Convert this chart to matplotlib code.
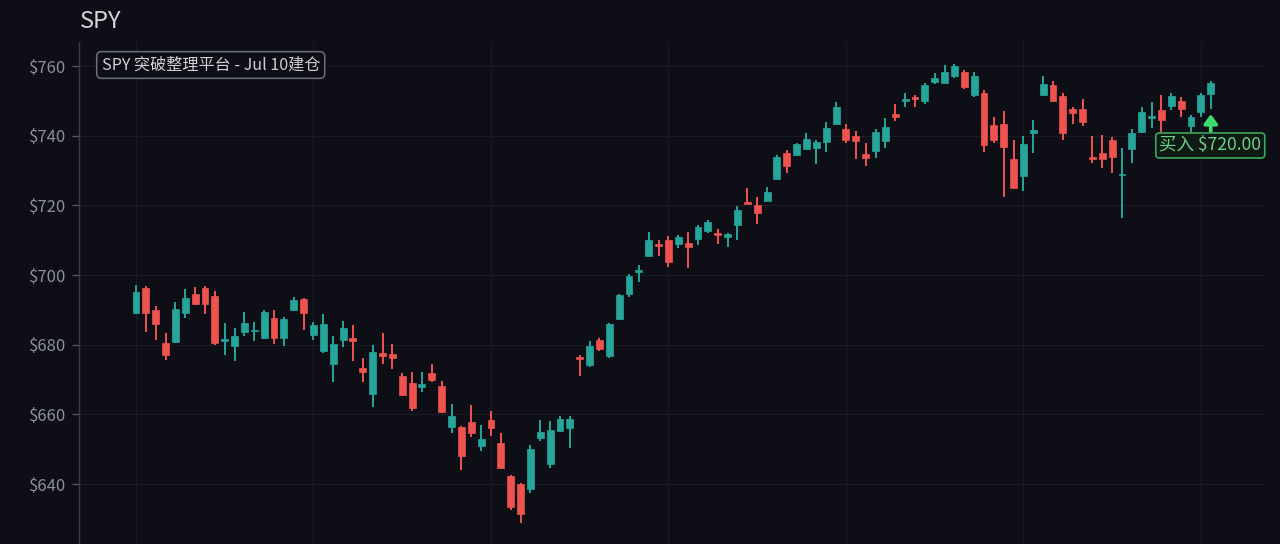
import matplotlib
matplotlib.use("Agg")
import matplotlib.pyplot as plt
import numpy as np

# ---------------- data ----------------
opens = [689.2, 696.2, 690.1, 680.6, 680.9, 689.2, 694.5, 696.2, 694.1, 681.1,
         679.7, 683.7, 683.8, 682.0, 687.6, 681.8, 690.0, 693.1, 682.8, 678.2,
         674.6, 681.3, 682.0, 673.2, 666.0, 677.5, 677.2, 671.0, 668.9, 668.0,
         672.0, 668.1, 656.4, 656.3, 657.9, 651.0, 658.4, 651.9, 642.3, 639.9,
         638.5, 653.3, 645.7, 655.2, 656.1, 676.4, 674.3, 681.3, 676.7, 687.3,
         694.7, 700.9, 705.6, 708.9, 710.0, 708.8, 709.3, 710.3, 712.6, 712.2,
         710.8, 714.4, 721.1, 720.1, 721.3, 727.6, 734.9, 734.4, 736.2, 736.6,
         738.3, 743.5, 741.9, 739.9, 734.7, 735.6, 738.5, 746.2, 750.0, 751.0,
         749.9, 755.5, 755.0, 757.0, 758.4, 751.7, 752.4, 743.2, 743.5, 733.3,
         728.5, 740.7, 751.7, 754.5, 751.5, 747.7, 747.6, 733.8, 734.9, 738.9,
         728.6, 736.3, 741.0, 745.0, 747.4, 748.5, 750.0, 742.9, 746.9, 751.9]
closes = [695.2, 689.2, 685.9, 677.0, 690.4, 693.5, 691.7, 691.6, 680.4, 681.4,
          682.6, 686.1, 684.2, 689.5, 681.8, 687.3, 692.8, 689.2, 685.6, 686.0,
          680.1, 684.7, 681.2, 672.1, 678.0, 676.9, 676.1, 665.5, 661.7, 668.7,
          670.0, 660.7, 659.5, 648.0, 654.7, 652.9, 656.2, 644.5, 633.5, 631.4,
          650.2, 655.0, 655.5, 658.6, 658.8, 675.9, 679.6, 678.9, 685.9, 694.2,
          699.8, 701.4, 710.0, 708.4, 703.8, 711.0, 708.1, 713.7, 715.1, 711.5,
          711.7, 718.7, 720.4, 717.7, 723.7, 734.0, 731.3, 737.6, 739.0, 738.1,
          742.3, 748.3, 738.9, 738.5, 733.7, 741.1, 742.4, 745.3, 750.6, 750.4,
          754.5, 756.5, 758.4, 760.0, 754.1, 757.1, 737.3, 738.9, 736.8, 725.1,
          737.6, 741.6, 754.8, 749.9, 740.7, 746.6, 743.8, 733.2, 733.2, 734.0,
          729.0, 740.9, 746.9, 745.6, 744.5, 751.5, 747.6, 745.3, 751.7, 755.0]
highs = [697.1, 696.9, 691.2, 683.5, 692.3, 695.9, 696.5, 696.9, 695.4, 686.3,
         684.9, 689.3, 686.4, 690.1, 690.1, 688.0, 693.6, 693.5, 686.6, 688.8,
         682.6, 686.9, 685.6, 676.1, 679.9, 683.4, 680.2, 671.8, 672.2, 672.2,
         674.4, 669.6, 663.0, 656.6, 662.7, 656.9, 661.0, 654.8, 642.6, 640.4,
         651.2, 658.4, 658.1, 659.6, 659.6, 677.0, 681.0, 682.0, 686.3, 694.7,
         700.3, 702.9, 712.4, 710.0, 711.2, 711.5, 712.4, 714.5, 715.8, 713.1,
         712.2, 719.8, 724.9, 722.3, 725.4, 734.4, 735.9, 738.0, 740.9, 738.9,
         743.8, 749.8, 743.3, 741.4, 737.8, 741.9, 745.0, 749.1, 752.2, 751.7,
         755.0, 758.1, 760.3, 760.6, 759.0, 758.2, 753.1, 745.4, 747.2, 738.8,
         739.9, 744.5, 757.1, 755.7, 752.2, 748.3, 750.4, 739.9, 740.2, 739.7,
         736.6, 741.8, 748.3, 749.6, 751.7, 752.4, 751.0, 745.9, 752.2, 755.8]
lows = [688.8, 683.7, 681.3, 675.6, 680.6, 687.8, 691.4, 688.8, 679.9, 677.0,
        675.4, 682.6, 681.1, 681.6, 680.1, 679.6, 689.7, 684.2, 681.3, 677.7,
        669.2, 679.4, 675.3, 669.4, 662.0, 674.6, 672.9, 665.2, 661.0, 666.5,
        669.4, 660.4, 654.7, 644.0, 653.4, 649.5, 653.9, 644.2, 632.5, 628.7,
        637.5, 652.3, 644.5, 655.2, 650.4, 671.0, 673.5, 678.1, 676.1, 687.1,
        693.8, 698.1, 705.4, 705.6, 702.2, 707.8, 702.1, 708.6, 712.0, 708.8,
        708.1, 710.0, 720.4, 714.8, 721.3, 727.3, 729.4, 734.3, 736.2, 731.8,
        735.4, 743.5, 737.8, 733.2, 731.3, 733.5, 736.6, 744.3, 748.3, 748.1,
        749.0, 754.8, 755.0, 756.7, 753.3, 751.2, 735.4, 738.0, 722.3, 724.9,
        724.1, 734.9, 751.7, 749.6, 738.9, 743.5, 742.9, 732.1, 730.6, 729.4,
        716.3, 732.1, 740.7, 742.1, 740.2, 747.4, 745.3, 741.1, 745.5, 747.8]

yticks = [640, 660, 680, 700, 720, 740, 760]
ticker = "SPY"
note_text = "SPY 突破整理平台 - Jul 10建仓"
buy_label = "买入 $720.00"
buy_index = 109

# ---------------- style ----------------
BG = "#0e0e16"
UP = "#26a69a"
DOWN = "#ef5350"
GRID = "#1a1b25"
TXT = "#8d909a"

plt.rcParams['font.family'] = ['Noto Sans CJK SC', 'DejaVu Sans']

fig = plt.figure(figsize=(12.8, 5.44), dpi=100, facecolor=BG)
ax = fig.add_axes([79/1280, 0.0, (1265-79)/1280, 1 - 42/544], facecolor=BG)

o = np.array(opens); c = np.array(closes); h = np.array(highs); l = np.array(lows)
x = np.arange(len(o))
up = c >= o
cols = np.where(up, UP, DOWN)

ax.vlines(x, l, h, colors=cols, linewidth=1.4, zorder=2)
body_bottom = np.minimum(o, c)
body_h = np.maximum(np.abs(c - o), 0.45)
ax.bar(x, body_h, bottom=body_bottom, width=0.7, color=cols, edgecolor=cols,
       linewidth=0.5, zorder=3)

ax.set_xlim(-5.78, 114.5)
ax.set_ylim(622.8, 766.9)

ax.set_yticks(yticks)
ax.set_yticklabels([f"${v}" for v in yticks])
ax.set_xticks(np.arange(0, len(o), 18))
ax.set_xticklabels([])
ax.grid(True, color=GRID, linewidth=0.9, zorder=0)
ax.tick_params(axis='y', colors="#5a5d68", labelcolor=TXT, labelsize=12,
               length=5, width=0.9, pad=4)
ax.tick_params(axis='x', length=0)
for s in ["top", "right", "bottom"]:
    ax.spines[s].set_visible(False)
ax.spines["left"].set_color("#3a3c47")
ax.spines["left"].set_linewidth(1.0)

fig.text(80/1280, 1 - 22/544, ticker, color="#d6d7dc", fontsize=17,
         va="center", ha="left")

ax.text(0.0190, 1 - (65-42)/(544-42), note_text, transform=ax.transAxes,
        color="#d0d1d6", fontsize=11.6, va="center", ha="left",
        bbox=dict(boxstyle="round,pad=0.3,rounding_size=0.3", facecolor=BG,
                  edgecolor="#6d7079", linewidth=1.1), zorder=5)

# buy arrow and label
ax.annotate("", xy=(buy_index, l[buy_index] - 1.6), xytext=(buy_index, l[buy_index] - 6.6),
            arrowprops=dict(arrowstyle="-|>,head_width=0.4,head_length=0.55",
                            color="#3ddc6f", lw=2.6, shrinkA=0, shrinkB=0), zorder=6)
ax.text(buy_index - 0.05, l[buy_index] - 10.6, buy_label, color="#6fd08a", fontsize=12.6,
        va="center", ha="center",
        bbox=dict(boxstyle="round,pad=0.2,rounding_size=0.2", facecolor="#0f1a14",
                  edgecolor="#3aa85d", linewidth=1.2), zorder=6)

fig.savefig("out.png", dpi=100, facecolor=BG)
